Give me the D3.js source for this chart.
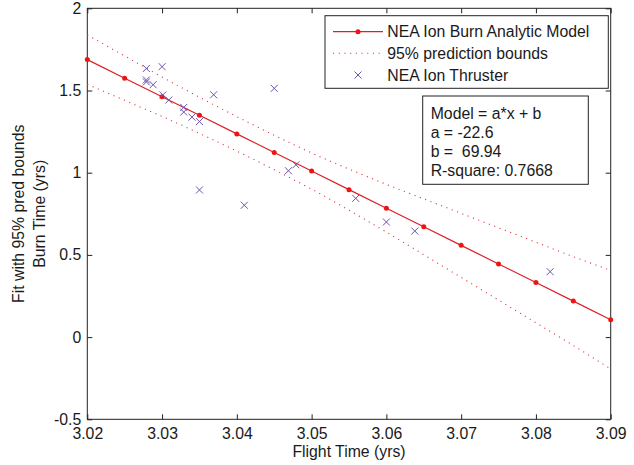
<!DOCTYPE html>
<html>
<head>
<meta charset="utf-8">
<script src="https://cdn.jsdelivr.net/npm/d3@7"></script>
<style>
	body { margin: 0; background: #fff; }
	svg text { font-family: "Liberation Sans", Arial, sans-serif; font-size: 15.8px; fill: #1a1a1a; }
</style>
</head>
<body>
<svg id="chart" width="634" height="465"></svg>
<script>
// Fit line (Model = a*x + b), one marker every 0.005
var fitX   = [3.020, 3.025, 3.030, 3.035, 3.040, 3.045, 3.050, 3.055, 3.060, 3.065, 3.070, 3.075, 3.080, 3.085, 3.090];
var fitY   = [1.688, 1.575, 1.462, 1.349, 1.236, 1.123, 1.010, 0.897, 0.784, 0.671, 0.558, 0.445, 0.332, 0.219, 0.106];
// 95% prediction bounds, read at the same x
var upperY = [1.838, 1.710, 1.582, 1.459, 1.341, 1.228, 1.120, 1.022, 0.929, 0.841, 0.753, 0.665, 0.577, 0.489, 0.406];
var lowerY = [1.538, 1.440, 1.342, 1.239, 1.131, 1.018, 0.900, 0.772, 0.639, 0.501, 0.363, 0.225, 0.087, -0.051, -0.194];

// NEA Ion Thruster points
var flightTime = [3.0279, 3.0300, 3.0279, 3.0279, 3.0288, 3.0301, 3.0309, 3.0329, 3.0329, 3.0340, 3.0350,
	3.0369, 3.0350, 3.0410, 3.0450, 3.0469, 3.0479, 3.0559, 3.0600, 3.0638, 3.0819];
var burnTime = [1.634, 1.645, 1.564, 1.552, 1.535, 1.473, 1.442, 1.397, 1.369, 1.338, 1.311,
	1.474, 0.895, 0.802, 1.513, 1.012, 1.048, 0.844, 0.700, 0.645, 0.398];

var xTicks = [3.02, 3.03, 3.04, 3.05, 3.06, 3.07, 3.08, 3.09];
var yTicks = [-0.5, 0, 0.5, 1, 1.5, 2];

var legendLabels = ["NEA Ion Burn Analytic Model", "95% prediction bounds", "NEA Ion Thruster"];
var statsLines = ["Model = a*x + b", "a = -22.6", "b =  69.94", "R-square: 0.7668"];

(function(){

	var svg = d3.select("#chart");

	// plot frame in pixels
	var pL = 87.3, pR = 610.7, pT = 8.3, pB = 419.3;

	var x = d3.scaleLinear().domain([3.02, 3.09]).range([pL, pR]);
	var y = d3.scaleLinear().domain([-0.5, 2]).range([pB, pT]);

	var redLine = "#dd1f26",
		redDot = "#ee1414",
		dotted = "#e0343c",
		purple = "#6f52ad";

	//==========================
	// AXES (ticks point inward)
	//==========================
	svg.append("g")
		.attr("transform", "translate(0," + pB + ")")
		.style("color", "#222")
		.call(d3.axisBottom(x).tickValues(xTicks).tickFormat(d3.format(".2f"))
			.tickSizeInner(-5).tickSizeOuter(0).tickPadding(8));

	svg.append("g")
		.attr("transform", "translate(0," + pT + ")")
		.style("color", "#222")
		.call(d3.axisTop(x).tickValues(xTicks).tickFormat("")
			.tickSizeInner(-5).tickSizeOuter(0));

	svg.append("g")
		.attr("transform", "translate(" + pL + ",0)")
		.style("color", "#222")
		.call(d3.axisLeft(y).tickValues(yTicks).tickFormat(function(d) { return String(d); })
			.tickSizeInner(-5).tickSizeOuter(0).tickPadding(6));

	svg.append("g")
		.attr("transform", "translate(" + pR + ",0)")
		.style("color", "#222")
		.call(d3.axisRight(y).tickValues(yTicks).tickFormat("")
			.tickSizeInner(-5).tickSizeOuter(0));

	svg.selectAll(".domain").remove();

	svg.append("rect")
		.attr("x", pL).attr("y", pT)
		.attr("width", pR - pL).attr("height", pB - pT)
		.attr("fill", "none")
		.attr("stroke", "#222")
		.attr("stroke-width", 1);

	// axis titles
	svg.append("text")
		.attr("x", (pL + pR) / 2)
		.attr("y", 457)
		.attr("text-anchor", "middle")
		.text("Flight Time (yrs)");

	svg.append("text")
		.attr("transform", "translate(23.5," + (pT + pB) / 2 + ") rotate(-90)")
		.attr("text-anchor", "middle")
		.text("Fit with 95% pred bounds");

	svg.append("text")
		.attr("transform", "translate(44.5," + (pT + pB) / 2 + ") rotate(-90)")
		.attr("text-anchor", "middle")
		.text("Burn Time (yrs)");

	//==========================
	// BOUNDS + FIT
	//==========================
	var line = d3.line()
		.x(function(d, i) { return x(fitX[i]); })
		.y(function(d) { return y(d); });

	var curved = d3.line()
		.x(function(d, i) { return x(fitX[i]); })
		.y(function(d) { return y(d); })
		.curve(d3.curveMonotoneX);

	[upperY, lowerY].forEach(function(b) {
		svg.append("path")
			.attr("d", curved(b))
			.attr("fill", "none")
			.attr("stroke", dotted)
			.attr("stroke-width", 1.1)
			.attr("stroke-dasharray", "1.1,4.6");
	});

	svg.append("path")
		.attr("d", line(fitY))
		.attr("fill", "none")
		.attr("stroke", redLine)
		.attr("stroke-width", 1.2);

	svg.selectAll("circle.fit")
		.data(fitY)
		.enter()
		.append("circle")
			.attr("class", "fit")
			.attr("cx", function(d, i) { return x(fitX[i]); })
			.attr("cy", function(d) { return y(d); })
			.attr("r", 2.5)
			.attr("fill", redDot);

	// data crosses
	var cross = "M-3.5,-3.5L3.5,3.5M-3.5,3.5L3.5,-3.5";
	svg.selectAll("path.pt")
		.data(burnTime)
		.enter()
		.append("path")
			.attr("class", "pt")
			.attr("d", cross)
			.attr("transform", function(d, i) { return "translate(" + x(flightTime[i]) + "," + y(d) + ")"; })
			.attr("fill", "none")
			.attr("stroke", purple)
			.attr("stroke-width", 1);

	//==========================
	// LEGEND
	//==========================
	var lg = svg.append("g");
	lg.append("rect")
		.attr("x", 325).attr("y", 15.7)
		.attr("width", 283.3).attr("height", 72.6)
		.attr("fill", "#fff")
		.attr("stroke", "#222");

	var rowY = [31.7, 53.3, 75];

	lg.append("line")
		.attr("x1", 333).attr("x2", 383).attr("y1", rowY[0]).attr("y2", rowY[0])
		.attr("stroke", redLine).attr("stroke-width", 1.2);
	lg.append("circle")
		.attr("cx", 358).attr("cy", rowY[0]).attr("r", 2.5).attr("fill", redDot);

	lg.append("line")
		.attr("x1", 333).attr("x2", 383).attr("y1", rowY[1]).attr("y2", rowY[1])
		.attr("stroke", dotted).attr("stroke-width", 1.1).attr("stroke-dasharray", "1.1,4.6");

	lg.append("path")
		.attr("d", cross)
		.attr("transform", "translate(358," + rowY[2] + ")")
		.attr("fill", "none")
		.attr("stroke", purple);

	lg.selectAll("text")
		.data(legendLabels)
		.enter()
		.append("text")
			.attr("x", 387.3)
			.attr("y", function(d, i) { return rowY[i] + 5.5; })
			.text(function(d) { return d; });

	// stats box
	var sb = svg.append("g");
	sb.append("rect")
		.attr("x", 422.7).attr("y", 96)
		.attr("width", 165.6).attr("height", 88.3)
		.attr("fill", "#fff")
		.attr("stroke", "#222");

	sb.selectAll("text")
		.data(statsLines)
		.enter()
		.append("text")
			.attr("x", 430.7)
			.attr("y", function(d, i) { return 119 + i * 19; })
			.style("white-space", "pre")
			.text(function(d) { return d; });

})();
</script>
</body>
</html>
